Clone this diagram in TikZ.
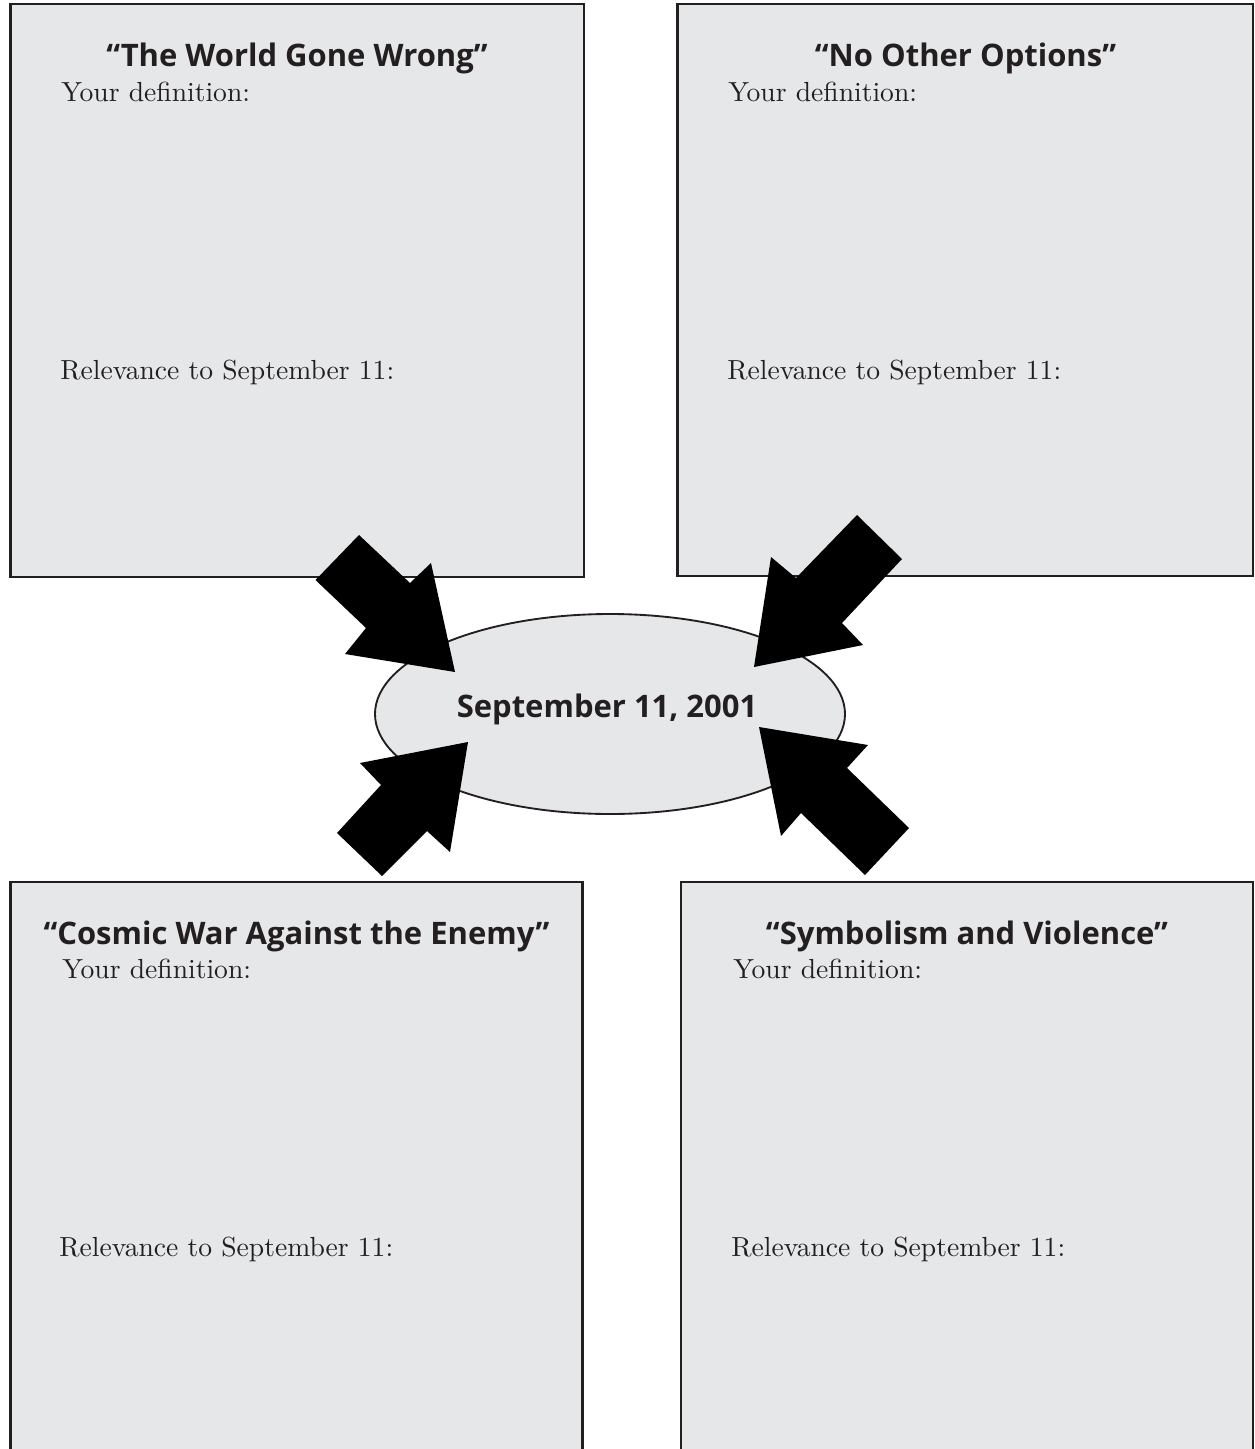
\documentclass[tikz,border=0pt]{standalone}
\usepackage{fontspec}
\setmainfont{lmroman10-regular}[Extension=.otf,BoldFont=lmroman10-bold]
\newfontfamily\headfont{Open Sans}
\usetikzlibrary{shapes.geometric}
\definecolor{boxfill}{RGB}{230,231,232}
\definecolor{ink}{RGB}{35,31,32}
\begin{document}
\begin{tikzpicture}[x=0.75pt,y=-0.75pt,
  panel/.style={fill=boxfill,draw=ink,line width=1.9pt},
  head/.style={font=\headfont\bfseries\fontsize{23.25}{28}\selectfont,text=ink,inner sep=0pt,anchor=base},
  body/.style={font=\fontsize{20.7}{25}\selectfont,text=ink,inner sep=0pt,anchor=base west},
  blockarrow/.style={fill=black,draw=none}]
\useasboundingbox (0,0) rectangle (1255,1449);
% panels
\path[panel] (10.5,4) rectangle (584,577);
\path[panel] (677.5,4) rectangle (1253,576);
\fill[boxfill] (10.5,882) rectangle (582.5,1449);
\draw[ink,line width=1.9pt] (10.5,1452) -- (10.5,882) -- (582.5,882) -- (582.5,1452);
\fill[boxfill] (681,882) rectangle (1253,1449);
\draw[ink,line width=1.9pt] (681,1452) -- (681,882) -- (1253,882) -- (1253,1452);
% centre ellipse
\node[ellipse,draw=ink,fill=boxfill,line width=1.4pt,inner sep=0pt,minimum width=352.5pt,minimum height=150pt] (sept) at (610,714) {};
\node[head] (septtext) at (607,717) {September 11, 2001};
% texts
\node[head] (t1) at (297,66) {“The World Gone Wrong”};
\node[body] (d1) at (61,101) {Your definition:};
\node[body] (r1) at (60,379) {Relevance to September 11:};
\node[head] (t2) at (965.5,66) {“No Other Options”};
\node[body] (d2) at (728,101) {Your definition:};
\node[body] (r2) at (727,379) {Relevance to September 11:};
\node[head] (t3) at (296.5,944) {“Cosmic War Against the Enemy”};
\node[body] (d3) at (62,978) {Your definition:};
\node[body] (r3) at (59,1256) {Relevance to September 11:};
\node[head] (t4) at (967,944) {“Symbolism and Violence”};
\node[body] (d4) at (733,978) {Your definition:};
\node[body] (r4) at (731,1256) {Relevance to September 11:};
% block arrows
\path[blockarrow] (359,535) -- (410,583) -- (431,563) -- (455,672) -- (345,654) -- (366,628) -- (315.5,580) -- cycle;
\path[blockarrow] (857,515) -- (902,559) -- (842,623) -- (863,645) -- (754,667) -- (771,557) -- (796,578) -- cycle;
\path[blockarrow] (468,742) -- (360,763) -- (381,785) -- (337,833) -- (382,876) -- (427,831) -- (450,852) -- cycle;
\path[blockarrow] (759,727) -- (868,745) -- (847,768) -- (909,828) -- (865,875) -- (801,813) -- (781,836) -- cycle;
\end{tikzpicture}
\end{document}
